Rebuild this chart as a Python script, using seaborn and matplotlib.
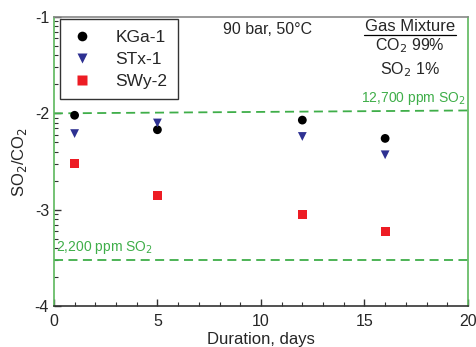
import matplotlib
matplotlib.use("Agg")
import matplotlib.pyplot as plt
import matplotlib.ticker as mticker
import seaborn as sns
import numpy as np
import pandas as pd

### values (y is log10 of SO2/CO2)
DAYS = [1, 5, 12, 16]
KGA1 = [-2.02, -2.17, -2.07, -2.26]
STX1 = [-2.21, -2.10, -2.24, -2.43]
SWY2 = [-2.52, -2.85, -3.05, -3.23]
SAMPLES = ["KGa-1", "STx-1", "SWy-2"]
HIGH_LINE = [-2.00, -1.97]   # 12,700 ppm SO2 (x = 0 .. 20)
LOW_LINE = [-3.52, -3.52]    # 2,200 ppm SO2

sns.set_style("white")
plt.rcParams['font.family'] = ['Liberation Sans', 'DejaVu Sans']
plt.rcParams['axes.unicode_minus'] = False

df = pd.DataFrame({
	"days": DAYS * 3,
	"ratio": KGA1 + STX1 + SWY2,
	"sample": np.repeat(SAMPLES, len(DAYS)),
})

fig = plt.figure(figsize=(4.77, 3.47), dpi=100)
ax = fig.add_axes([0.113, 0.118, 0.868, 0.833])

green = "#3fae49"
ax.plot([0, 20], HIGH_LINE, color=green, ls=(0, (5, 3)), lw=1.3, zorder=1)
ax.plot([0, 20], LOW_LINE, color=green, ls=(0, (5, 3)), lw=1.3, zorder=1)

sns.scatterplot(data=df, x="days", y="ratio", hue="sample", style="sample",
				palette=["black", "#2e3192", "#ed1c24"],
				markers=["o", "v", "s"], s=40, edgecolor="none", ax=ax, zorder=3)

ax.set_xlim(0, 20)
ax.set_ylim(-4, -1)
ax.set_xticks([0, 5, 10, 15, 20])
ax.set_yticks([-4, -3, -2, -1])
ax.xaxis.set_minor_locator(mticker.MultipleLocator(1))
### minor ticks on the y axis follow log spacing
minor = [d + np.log10(k) for d in (-4, -3, -2) for k in range(2, 10)]
ax.yaxis.set_minor_locator(mticker.FixedLocator(minor))
ax.tick_params(which="both", direction="in", labelsize=11.5, color="#333333",
			   bottom=True, left=True, top=False, right=False)
ax.tick_params(which="major", length=5, width=1)
ax.tick_params(which="minor", length=3, width=0.8)
ax.tick_params(axis="x", pad=6)

for side in ["left", "right"]:
	ax.spines[side].set_color("#5cb85c")
ax.spines["top"].set_color("#888888")
ax.spines["bottom"].set_color("#333333")
for sp in ax.spines.values():
	sp.set_linewidth(1.2)

ax.set_xlabel("Duration, days", fontsize=12, labelpad=2)
ax.set_ylabel("SO$_2$/CO$_2$", fontsize=12, labelpad=4)

leg = ax.legend(title=None, loc="upper left", bbox_to_anchor=(0.0145, 0.993),
				fontsize=12.5, frameon=True, fancybox=False, edgecolor="black",
				handlelength=1.4, handletextpad=1.2, borderpad=0.6,
				borderaxespad=0.0, markerscale=1.1, labelspacing=0.4)
leg.get_frame().set_linewidth(1.0)

ax.text(10.3, -1.13, "90 bar, 50°C", fontsize=11.5, ha="center", va="center")
ax.text(17.2, -1.10, "Gas Mixture", fontsize=12, ha="center", va="center")
ax.plot([15.0, 19.4], [-1.19, -1.19], color="black", lw=0.9)
ax.text(17.2, -1.30, "CO$_2$ 99%", fontsize=11.5, ha="center", va="center")
ax.text(17.2, -1.55, "SO$_2$ 1%", fontsize=11.5, ha="center", va="center")
ax.text(19.9, -1.93, "12,700 ppm SO$_2$", fontsize=10, color=green, ha="right", va="bottom")
ax.text(0.1, -3.48, "2,200 ppm SO$_2$", fontsize=10, color=green, ha="left", va="bottom")

fig.savefig("out.png", dpi=100)
